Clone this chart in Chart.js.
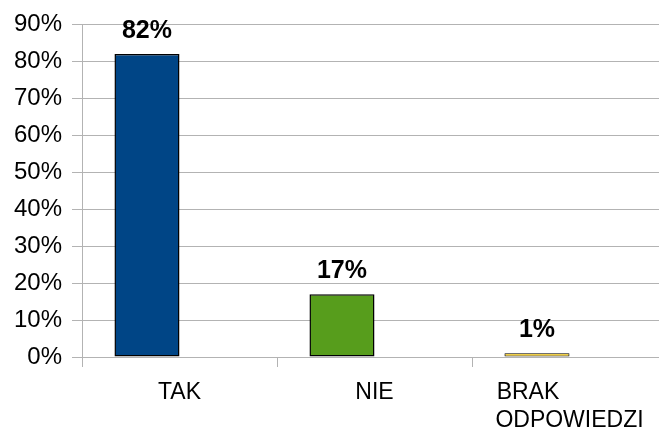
<!DOCTYPE html>
<html>
<head>
<meta charset="utf-8">
<script src="https://cdn.jsdelivr.net/npm/chart.js@4/dist/chart.umd.min.js"></script>
<style>
  html, body { margin: 0; padding: 0; background: #fff; overflow: hidden; }
  #wrap { position: relative; width: 680px; height: 430px; }
</style>
</head>
<body>
<div id="wrap"><canvas id="chart"></canvas></div>
<script>
const labels = ['TAK', 'NIE', ['BRAK', 'ODPOWIEDZI']];
const values = [82, 17, 1];
const barColors = ['#004586', '#579d1c', '#ffd320'];
const yTicks = [0, 10, 20, 30, 40, 50, 60, 70, 80, 90];

const gridColor = '#b3b3b3';
const font = 'Liberation Sans, Arial, sans-serif';

// multi-line labels are drawn left-aligned: pad shorter lines with spaces
const measure = document.createElement('canvas').getContext('2d');
measure.font = '23px ' + font;
function padLines(lines) {
  if (!Array.isArray(lines)) return lines;
  const widest = Math.max(...lines.map(l => measure.measureText(l).width));
  const space = measure.measureText(' ').width;
  return lines.map(l => l + ' '.repeat(Math.round((widest - measure.measureText(l).width) / space)));
}

const valueLabels = {
  id: 'valueLabels',
  afterDatasetsDraw(chart) {
    const { ctx } = chart;
    const meta = chart.getDatasetMeta(0);
    ctx.save();
    ctx.font = 'bold 25px ' + font;
    ctx.fillStyle = '#000';
    ctx.textAlign = 'center';
    ctx.textBaseline = 'middle';
    meta.data.forEach((bar, i) => {
      ctx.fillText(values[i] + '%', bar.x, bar.y - 23);
    });
    ctx.restore();
  },
};

new Chart(document.getElementById('chart'), {
  type: 'bar',
  data: {
    labels,
    datasets: [
      {
        data: values,
        backgroundColor: barColors,
        borderColor: '#000',
        borderWidth: [1.5, 1.5, 1],
        borderSkipped: false,
        inflateAmount: 0,
      },
      {
        // empty second slot in each group
        data: values.map(() => null),
      },
    ],
  },
  options: {
    responsive: true,
    maintainAspectRatio: false,
    animation: false,
    categoryPercentage: 0.667,
    barPercentage: 1,
    layout: { padding: { top: 23, right: 13, left: 0, bottom: 0 } },
    plugins: {
      legend: { display: false },
      tooltip: { enabled: false },
    },
    scales: {
      x: {
        offset: true,
        grid: {
          offset: true,
          drawOnChartArea: false,
          color: gridColor,
          tickLength: 10,
        },
        border: { color: gridColor },
        ticks: {
          color: '#000',
          font: { family: font, size: 23 },
          padding: 12,
          maxRotation: 0,
          autoSkip: false,
          callback(value, index) {
            return padLines(labels[index]);
          },
        },
        afterFit(scale) { scale.height = 73; },
      },
      y: {
        min: 0,
        max: 90,
        grid: { color: gridColor, tickLength: 10 },
        border: { color: gridColor },
        afterBuildTicks(scale) {
          scale.ticks = yTicks.map(v => ({ value: v }));
        },
        ticks: {
          color: '#000',
          font: { family: font, size: 24 },
          padding: 10,
          callback: v => v + '%',
        },
        afterFit(scale) { scale.width = 82; },
      },
    },
  },
  plugins: [valueLabels],
});
</script>
</body>
</html>
